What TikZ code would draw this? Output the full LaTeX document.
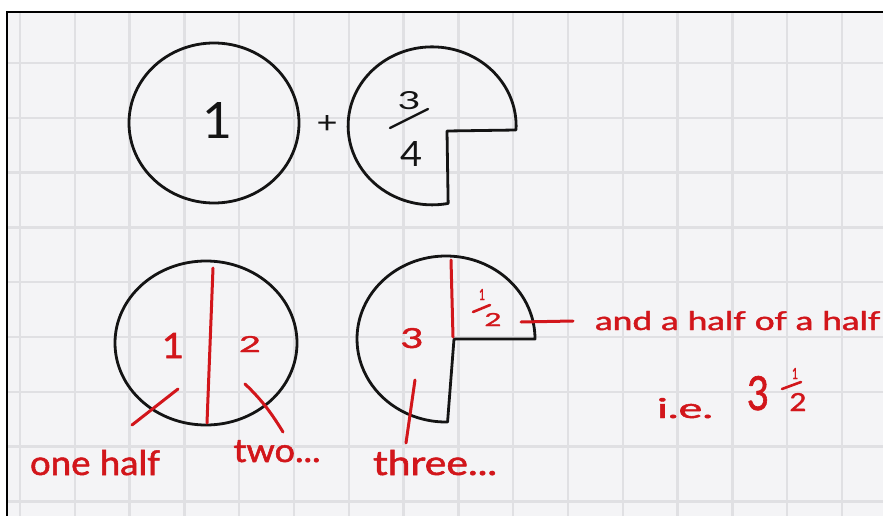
\documentclass[tikz,border=0pt]{standalone}
\usepackage{fontspec}
\usepackage{graphicx}
\setmainfont{Lato}
\newfontfamily\handfont{Lato}[BoldFont={*}, BoldFeatures={FakeBold=1.5}]
\usetikzlibrary{shapes.geometric}
\definecolor{paper}{HTML}{F4F4F6}
\definecolor{gridc}{HTML}{E0E0E3}
\definecolor{ink}{HTML}{141414}
\definecolor{redink}{HTML}{D2161B}
\newcommand{\fitbox}[3]{\resizebox{#1pt}{#2pt}{#3}}
\tikzset{
 inkline/.style={draw=ink, line width=2.8pt, line cap=round, line join=round},
 redline/.style={draw=redink, line width=3pt, line cap=round},
 blacktxt/.style={text=ink, inner sep=0pt, anchor=base, font=\fontsize{30}{30}\selectfont},
 redtxt/.style={text=redink, inner sep=0pt, anchor=base, font=\handfont\bfseries\fontsize{26}{26}\selectfont},
 circ/.style={ellipse, inkline, inner sep=0pt},
}
\begin{document}
\begin{tikzpicture}[x=1pt,y=-1pt]
\useasboundingbox (0,0) rectangle (883,516);
\fill[white] (0,0) rectangle (883,516);
\fill[paper] (7,12) rectangle (883,516);
\begin{scope}
\clip (7,12) rectangle (883,516);
\foreach \i in {0,...,15} \draw[gridc, line width=2.5pt] ({20+54.8*\i},12) -- ({20+54.8*\i},516);
\foreach \j in {0,...,8} \draw[gridc, line width=2.5pt] (7,{63+54.8*\j}) -- (883,{63+54.8*\j});
\end{scope}
\draw[black, line width=2pt] (7,530) -- (7,12) -- (895,12);

% ---------- top row ----------
\node[circ, minimum width=170pt, minimum height=160pt] (c1) at (214,123) {};
\node[blacktxt] (one) at (217,138) {\fitbox{30}{36}{1}};
\node[blacktxt] (plus) at (327,133) {\fitbox{21}{18}{+}};

\coordinate (p1s) at (516,130);
\coordinate (p1c) at (447,131);
\draw[inkline] (p1s) arc[start angle=3, end angle=-281, x radius=84, y radius=79] -- (p1c) -- cycle;
\node[blacktxt] (n3) at (409,110) {\fitbox{23}{18}{3}};
\node[blacktxt] (n4) at (411,167) {\fitbox{22}{25}{4}};
\coordinate (sA) at (390,128);
\coordinate (sB) at (428,109);
\draw[inkline, line width=2.4pt] (sA) -- (sB);

% ---------- bottom row ----------
\node[circ, minimum width=182pt, minimum height=164pt] (c2) at (206,343) {};
\coordinate (v1a) at (213,268);
\coordinate (v1b) at (207,423);
\draw[redline] (v1a) -- (v1b);
\node[redtxt] (r1) at (173,358) {\fitbox{22}{25}{1}};
\node[redtxt] (r2) at (250,352) {\fitbox{22}{16}{2}};

\coordinate (l1a) at (178,389);
\coordinate (l1b) at (132,425);
\draw[redline] (l1a) -- (l1b);
\coordinate (l2a) at (245,384);
\coordinate (l2b) at (283,432);
\draw[redline] (l2a) .. controls (262,400) and (272,414) .. (l2b);

\node[redtxt] (thalf) at (95,475) {\fitbox{130}{25}{one half}};
\node[redtxt] (ttwo) at (277,462) {\fitbox{87}{22}{two...}};
\node[redtxt] (tthree) at (435,475) {\fitbox{124}{25}{three...}};

\coordinate (p2s) at (535,339);
\coordinate (p2c) at (454,339);
\draw[inkline] (p2s) arc[start angle=0, end angle=-271, x radius=89, y radius=83] -- (p2c) -- cycle;
\coordinate (v2a) at (451,260);
\coordinate (v2b) at (453,337);
\draw[redline] (v2a) -- (v2b);
\node[redtxt] (r3) at (412,348) {\fitbox{23}{20}{3}};

\node[redtxt] (h1) at (482,300) {\fitbox{6}{11}{1}};
\coordinate (hA) at (473,312);
\coordinate (hB) at (490,305);
\draw[redline, line width=2.6pt] (hA) -- (hB);
\node[redtxt] (h2) at (493,326) {\fitbox{17}{13}{2}};

\coordinate (l3a) at (415,380);
\coordinate (l3b) at (406,443);
\draw[redline] (l3a) -- (l3b);

\coordinate (dA) at (521,322);
\coordinate (dB) at (573,321);
\draw[redline] (dA) -- (dB);
\node[redtxt, anchor=base west] (tand) at (595,330) {\fitbox{285}{19}{and a half of a half}};

\node[redtxt] (tie) at (685,418) {\fitbox{56}{20}{i.e.}};
\node[redtxt] (big3) at (758,410) {\fitbox{22}{34}{3}};
\node[redtxt] (bh1) at (795,379) {\fitbox{6}{11}{1}};
\coordinate (bA) at (782,389);
\coordinate (bB) at (801,382);
\draw[redline, line width=2.6pt] (bA) -- (bB);
\node[redtxt] (bh2) at (798,411) {\fitbox{17}{18}{2}};
\end{tikzpicture}
\end{document}
